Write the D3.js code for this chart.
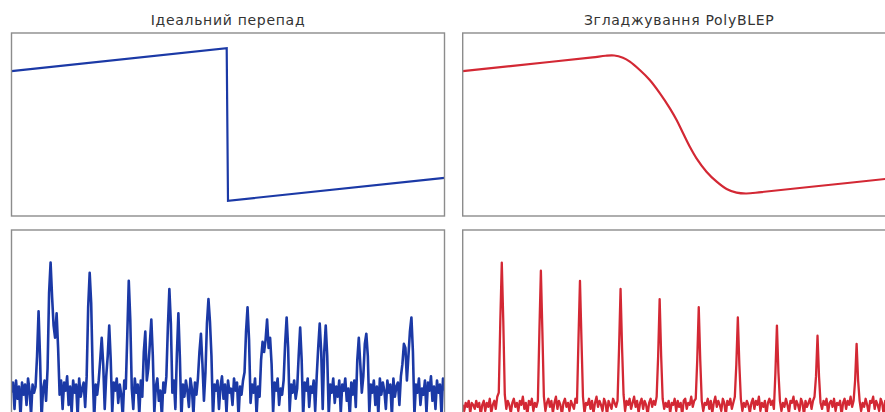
<!DOCTYPE html>
<html>
<head>
<meta charset="utf-8">
<script src="https://cdn.jsdelivr.net/npm/d3@7"></script>
<style>
  html, body { margin: 0; padding: 0; background: #fff; }
  svg { display: block; }
</style>
</head>
<body>
<div id="chart"></div>
<script>
// ---------------- DATA ----------------
const titles = ["Ідеальний перепад", "Згладжування PolyBLEP"];

// Top-left: ideal (naive) sawtooth step
const idealX = [-1, -0.006, 0.0, 1];
const idealY = [0.70, 1.00, -1.00, -0.70];

// Top-right: PolyBLEP-smoothed step
const blepX = [-1, -0.6, -0.4, -0.34, -0.30, -0.26, -0.228, -0.182, -0.136, -0.089, -0.043, -0.012, 0.018, 0.049, 0.080, 0.126, 0.173, 0.219, 0.265, 0.31, 0.38, 0.6, 1];
const blepY = [0.70, 0.82, 0.88, 0.902, 0.905, 0.875, 0.825, 0.715, 0.584, 0.409, 0.212, 0.059, -0.115, -0.291, -0.443, -0.619, -0.75, -0.846, -0.894, -0.905, -0.886, -0.82, -0.70];

// Bottom-left: spectrum of naive saw (dB, one value per bin)
const naiveSpectrum = [
-80,-75,-88,-74,-83,-77,-92,-75,-81,-76,
-86,-73,-79,-91,-76,-80,-77,-62,-40,-63,
-93,-78,-74,-84,-68,-31,-16,-33,-47,-53,
-41,-58,-81,-74,-88,-75,-79,-72,-86,-77,
-90,-74,-80,-76,-92,-73,-82,-78,-75,-87,
-72,-38,-21,-36,-70,-93,-76,-81,-74,-64,
-53,-66,-88,-72,-62,-47,-64,-90,-75,-79,
-73,-85,-76,-81,-92,-74,-78,-52,-25,-44,
-78,-88,-73,-80,-76,-91,-74,-82,-60,-50,
-74,-68,-56,-44,-62,-90,-77,-73,-84,-79,
-92,-75,-80,-72,-48,-29,-46,-80,-74,-88,
-61,-41,-63,-93,-76,-82,-74,-79,-87,-73,
-78,-91,-75,-81,-73,-60,-51,-66,-84,-70,
-46,-34,-45,-62,-92,-76,-79,-74,-88,-77,
-72,-83,-76,-90,-74,-80,-78,-86,-73,-79,
-75,-92,-77,-81,-74,-70,-50,-38,-54,-85,
-76,-80,-73,-91,-77,-82,-64,-55,-60,-54,
-44,-58,-53,-66,-90,-75,-79,-73,-86,-78,
-81,-74,-56,-43,-58,-89,-76,-80,-74,-83,
-78,-62,-48,-64,-92,-75,-79,-73,-87,-77,
-80,-74,-89,-72,-58,-46,-60,-88,-60,-47,
-62,-91,-76,-80,-73,-85,-77,-82,-74,-90,
-76,-79,-73,-84,-78,-92,-75,-81,-74,-87,
-64,-53,-66,-80,-72,-56,-51,-62,-90,-76,
-80,-74,-86,-77,-91,-73,-81,-75,-79,-88,
-74,-80,-76,-92,-73,-82,-77,-75,-86,-72,
-66,-56,-58,-74,-62,-50,-43,-60,-91,-76,
-80,-73,-86,-78,-81,-74,-90,-75,-79,-72,
-84,-77,-88,-74,-80,-76,-91,-73,-79
];

// Bottom-right: spectrum of PolyBLEP saw (dB, one value per bin)
const blepSpectrum = [
-86,-89,-85,-87,-84,-90,-85,-86,-88,-84,
-87,-85,-91,-86,-84,-89,-85,-87,-83,-90,
-86,-84,-88,-82,-80,-45,-16,-45,-81,-88,
-84,-86,-90,-85,-83,-87,-85,-89,-84,-86,
-82,-88,-85,-91,-84,-86,-83,-89,-85,-87,
-84,-50,-20,-50,-82,-89,-85,-83,-87,-84,
-90,-85,-82,-88,-84,-86,-91,-85,-83,-87,
-85,-89,-84,-86,-88,-83,-85,-54,-25,-54,
-82,-90,-85,-86,-83,-88,-84,-90,-85,-82,
-87,-84,-86,-89,-83,-85,-91,-84,-86,-88,
-83,-85,-87,-84,-58,-29,-58,-81,-89,-84,
-86,-83,-88,-85,-82,-87,-84,-90,-85,-83,
-88,-84,-86,-91,-85,-83,-87,-84,-86,-82,
-62,-34,-62,-83,-88,-85,-87,-84,-90,-85,
-86,-83,-89,-84,-87,-85,-91,-84,-83,-88,
-85,-86,-82,-87,-84,-83,-64,-38,-64,-84,
-89,-85,-86,-83,-88,-84,-90,-85,-82,-87,
-84,-86,-89,-83,-85,-91,-84,-86,-83,-88,
-85,-82,-66,-43,-66,-83,-89,-85,-87,-84,
-86,-90,-85,-83,-88,-84,-86,-82,-89,-85,
-87,-84,-91,-85,-83,-86,-84,-88,-70,-47,
-70,-84,-89,-85,-87,-83,-86,-90,-84,-85,
-82,-88,-84,-86,-89,-83,-85,-91,-84,-87,
-85,-83,-88,-84,-82,-72,-52,-72,-85,-88,
-84,-86,-83,-90,-85,-84,-87,-83,-89,-85,
-86,-84,-91,-85,-83,-88,-84,-86,-82,-87,
-84,-74,-56,-74,-84,-89,-85,-87,-83,-86,
-90,-84,-85,-82,-88,-84,-86,-89,-83,-85,
-91,-84,-86,-83,-88,-85,-87,-84,-86
];

const blueColor = "#1b39a6";
const redColor = "#d32834";

// ---------------- LAYOUT ----------------
const W = 885, H = 412;
const panelW = 433, panelH = 183;
const lefts = [11.5, 462.7];
const tops = [33, 230];

const svg = d3.select("#chart").append("svg")
  .attr("width", W).attr("height", H)
  .style("font-family", "'DejaVu Sans', sans-serif");

svg.append("rect").attr("width", W).attr("height", H).attr("fill", "#fff");

const defs = svg.append("defs");

function panel(col, row, id) {
  const g = svg.append("g").attr("transform", `translate(${lefts[col]},${tops[row]})`);
  defs.append("clipPath").attr("id", id)
    .append("rect").attr("x", 0).attr("y", 0).attr("width", panelW).attr("height", panelH);
  const inner = g.append("g").attr("clip-path", `url(#${id})`);
  return { g, inner };
}

function border(p) {
  p.g.append("rect")
    .attr("x", 0).attr("y", 0).attr("width", panelW).attr("height", panelH)
    .attr("fill", "none").attr("stroke", "#8c8c8c").attr("stroke-width", 1.4);
}

// Top scales
const xTop = d3.scaleLinear().domain([-1, 1]).range([0, panelW]);
const yTop = d3.scaleLinear().domain([-1.2, 1.2]).range([panelH, 0]);

// Bottom scales
const xSpec = d3.scaleLinear().domain([0, naiveSpectrum.length - 1]).range([0, panelW]);
const ySpec = d3.scaleLinear().domain([-90, 0]).range([panelH, 0]);

// Top-left
const p1 = panel(0, 0, "c1");
p1.inner.append("path")
  .datum(d3.zip(idealX, idealY))
  .attr("fill", "none").attr("stroke", blueColor).attr("stroke-width", 2.2)
  .attr("stroke-linejoin", "miter")
  .attr("d", d3.line().x(d => xTop(d[0])).y(d => yTop(d[1])));
border(p1);

// Top-right
const p2 = panel(1, 0, "c2");
p2.inner.append("path")
  .datum(d3.zip(blepX, blepY))
  .attr("fill", "none").attr("stroke", redColor).attr("stroke-width", 2.2)
  .attr("d", d3.line().curve(d3.curveCatmullRom.alpha(0.5)).x(d => xTop(d[0])).y(d => yTop(d[1])));
border(p2);

// Bottom-left
const p3 = panel(0, 1, "c3");
p3.inner.append("path")
  .datum(naiveSpectrum)
  .attr("fill", "none").attr("stroke", blueColor).attr("stroke-width", 2.6)
  .attr("stroke-linejoin", "round")
  .attr("d", d3.line().x((d, i) => xSpec(i)).y(d => ySpec(d)));
border(p3);

// Bottom-right
const p4 = panel(1, 1, "c4");
p4.inner.append("path")
  .datum(blepSpectrum)
  .attr("fill", "none").attr("stroke", redColor).attr("stroke-width", 2.3)
  .attr("stroke-linejoin", "round")
  .attr("d", d3.line().x((d, i) => xSpec(i)).y(d => ySpec(d)));
border(p4);

// Titles
titles.forEach((t, i) => {
  svg.append("text")
    .attr("x", lefts[i] + panelW / 2).attr("y", 25)
    .attr("text-anchor", "middle")
    .attr("font-size", 14)
    .attr("letter-spacing", 0.7)
    .attr("fill", "#333")
    .text(t);
});
</script>
</body>
</html>
